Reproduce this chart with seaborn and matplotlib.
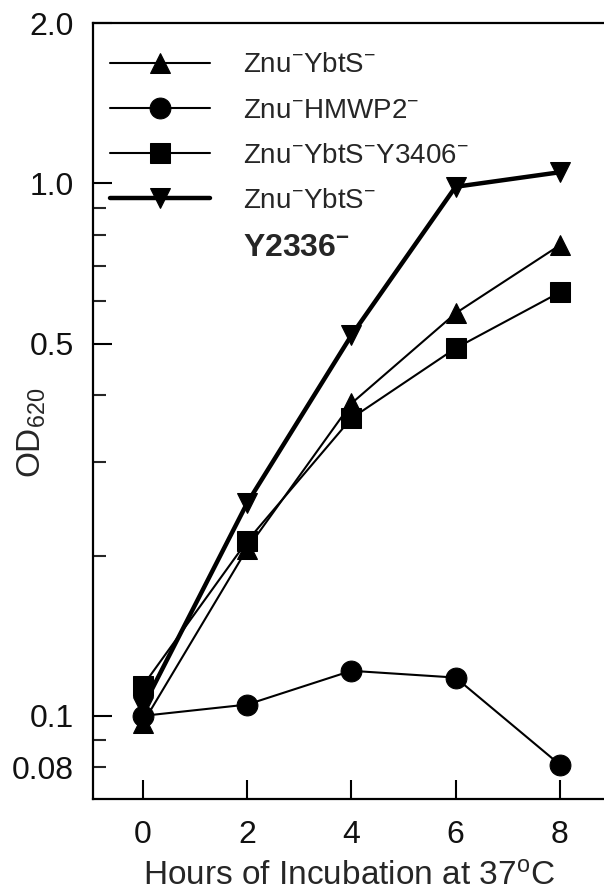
import matplotlib
matplotlib.use("Agg")
import matplotlib.pyplot as plt
import matplotlib.ticker as mticker
import seaborn as sns
import pandas as pd

# ---- data ----
hours = [0, 2, 4, 6, 8]
znu_ybts = [0.097, 0.206, 0.386, 0.570, 0.765]
znu_hmwp2 = [0.100, 0.105, 0.1215, 0.118, 0.081]
znu_ybts_y3406 = [0.114, 0.213, 0.362, 0.490, 0.624]
znu_ybts_y2336 = [0.104, 0.251, 0.518, 0.985, 1.049]

labels = [r"Znu$^{-}$YbtS$^{-}$", r"Znu$^{-}$HMWP2$^{-}$",
          r"Znu$^{-}$YbtS$^{-}$Y3406$^{-}$", r"Znu$^{-}$YbtS$^{-}$"]
series = [znu_ybts, znu_hmwp2, znu_ybts_y3406, znu_ybts_y2336]
markers = ["^", "o", "s", "v"]
widths = [1.5, 1.5, 1.5, 3.2]

y_major = [0.1, 0.5, 1.0, 2.0]
y_major_labels = ["0.1", "0.5", "1.0", "2.0"]
y_minor = [0.08, 0.09, 0.2, 0.3, 0.4, 0.6, 0.7, 0.8, 0.9]

sns.set_style("ticks")
plt.rcParams["font.family"] = ["Liberation Sans", "DejaVu Sans"]
plt.rcParams["mathtext.fontset"] = "custom"
plt.rcParams["mathtext.rm"] = "Liberation Sans"
plt.rcParams["mathtext.it"] = "Liberation Sans:italic"
plt.rcParams["mathtext.bf"] = "Liberation Sans:bold"

fig = plt.figure(figsize=(6.04, 8.94), dpi=100)
W, H = 604, 894
ax = fig.add_axes([93 / W, 95 / H, 1 - 93 / W, 776 / H])

for vals, lab, mk, lw in zip(series, labels, markers, widths):
    df = pd.DataFrame({"hours": hours, "od": vals})
    sns.lineplot(data=df, x="hours", y="od", marker=mk, markersize=15,
                 color="black", linewidth=lw, markeredgecolor="black",
                 label=lab, ax=ax, clip_on=False)

ax.set_yscale("log")
ax.set_ylim(0.0698, 2.0)
ax.set_xlim(-0.96, 8.85)

ax.set_xticks(hours)
ax.set_xticklabels([str(h) for h in hours])
ax.yaxis.set_major_locator(mticker.FixedLocator(y_major))
ax.yaxis.set_major_formatter(mticker.FixedFormatter(y_major_labels))
ax.yaxis.set_minor_locator(mticker.FixedLocator(y_minor))
ax.yaxis.set_minor_formatter(mticker.FixedFormatter(["0.08"] + [""] * (len(y_minor) - 1)))

ax.tick_params(axis="both", which="major", direction="in", length=13.5,
               width=1.5, labelsize=23, color="black", labelcolor="#111111")
ax.tick_params(axis="y", which="minor", direction="in", length=9.5,
               width=1.5, labelsize=23, labelcolor="#111111")
ax.tick_params(axis="y", which="both", pad=14)
ax.tick_params(axis="x", which="major", pad=15)

for s in ["left", "bottom", "top"]:
    ax.spines[s].set_linewidth(1.6)
    ax.spines[s].set_color("black")
ax.spines["right"].set_visible(False)

ax.set_xlabel(r"Hours of Incubation at 37$^{\mathrm{o}}$C", fontsize=24, labelpad=8.5)
ax.set_ylabel(r"OD$_{620}$", fontsize=24)
ax.yaxis.set_label_coords(-0.089, 0.472)

leg = ax.legend(loc="upper left", bbox_to_anchor=(0.0333, 0.962), frameon=False,
                fontsize=20, handlelength=3.6, handletextpad=1.19,
                labelspacing=0.69, borderaxespad=0, borderpad=0)
fig.text(243 / W, 1 - 248 / H, r"Y2336$^{\mathbf{-}}$", fontsize=23,
         fontweight="bold", va="center", ha="left")

fig.savefig("out.png", dpi=100)
